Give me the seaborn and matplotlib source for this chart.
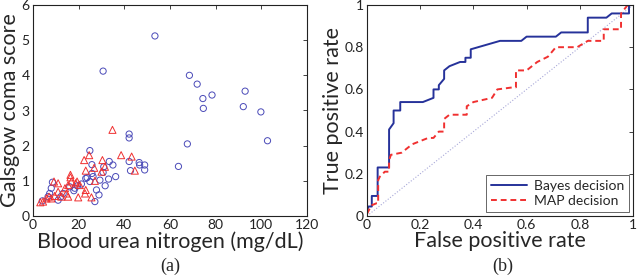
"""Dispersión BUN vs. coma (a) y curvas ROC Bayes/MAP (b)."""

import matplotlib
matplotlib.use("Agg")
import matplotlib.pyplot as plt
import seaborn as sns

# ---------------------------------------------------------------------------
# Datos
# ---------------------------------------------------------------------------
# (a) círculos azules
bun_circ = [53.4, 30.7, 68.5, 71.9, 74.4, 74.6, 78.4, 92.9, 92.1, 99.8, 102.7,
            67.6, 63.7, 42.1, 42.1, 42.1, 42.7, 46.5, 46.7, 48.9, 48.9, 35.0,
            33.4, 36.2, 33.1, 31.6, 30.7, 31.0, 24.9, 25.8, 25.8, 26.3, 29.3,
            27.8, 28.9, 27.1, 23.7, 23.1, 24.9, 21.2, 18.3, 17.9, 8.5, 8.0,
            7.3, 6.6, 4.1, 11.0, 13.2, 16.1, 12.2, 19.5]
gcs_circ = [5.12, 4.12, 4.00, 3.75, 3.34, 3.06, 3.44, 3.55, 3.11, 2.96, 2.14,
            2.05, 1.41, 2.33, 2.22, 1.55, 1.29, 1.52, 1.45, 1.45, 1.31, 1.45,
            1.55, 1.12, 1.05, 0.86, 1.24, 1.40, 1.86, 1.46, 1.21, 1.12, 1.02,
            0.74, 0.60, 0.41, 1.09, 1.07, 0.98, 0.91, 0.79, 0.72, 0.96, 0.79,
            0.64, 0.55, 0.43, 0.45, 0.64, 0.83, 0.55, 0.86]

# (a) triángulos rojos
bun_tri = [34.8, 38.6, 43.2, 44.6, 24.6, 22.4, 30.4, 31.5, 30.0, 26.8, 27.1,
           23.1, 23.1, 22.8, 25.6, 19.8, 16.4, 16.4, 18.7, 19.3, 20.5, 16.8,
           15.4, 14.0, 14.6, 15.4, 11.0, 9.2, 11.0, 9.5, 8.0, 5.9, 4.4, 3.2,
           7.0, 12.4]
gcs_tri = [2.45, 1.73, 1.69, 1.29, 1.73, 1.59, 1.59, 1.40, 1.26, 1.37, 1.00,
           1.29, 0.74, 0.64, 0.53, 0.53, 1.17, 1.10, 0.93, 0.98, 0.88, 0.98,
           0.88, 0.79, 0.64, 0.55, 0.93, 0.98, 0.69, 0.57, 0.50, 0.50, 0.41,
           0.39, 0.55, 0.55]

# (b) curva ROC - decisión de Bayes
fpr_bayes = [0.0, 0.005, 0.018, 0.018, 0.04, 0.04, 0.083, 0.083, 0.10, 0.10,
             0.125, 0.125, 0.21, 0.25, 0.25, 0.27, 0.27, 0.29, 0.29, 0.31,
             0.35, 0.37, 0.37, 0.39, 0.39, 0.50, 0.58, 0.60, 0.71, 0.73, 0.83,
             0.83, 0.90, 0.92, 0.985, 0.985, 1.0]
tpr_bayes = [0.02, 0.045, 0.045, 0.095, 0.095, 0.23, 0.23, 0.41, 0.44, 0.50,
             0.50, 0.54, 0.54, 0.56, 0.60, 0.60, 0.62, 0.65, 0.69, 0.71, 0.73,
             0.73, 0.75, 0.75, 0.79, 0.83, 0.83, 0.85, 0.85, 0.87, 0.87, 0.94,
             0.94, 0.96, 0.96, 1.0, 1.0]

# (b) curva ROC - decisión MAP
fpr_map = [0.0, 0.016, 0.035, 0.042, 0.042, 0.048, 0.067, 0.083, 0.083, 0.09,
           0.13, 0.17, 0.23, 0.25, 0.27, 0.29, 0.29, 0.31, 0.375, 0.375, 0.40,
           0.47, 0.49, 0.55, 0.56, 0.56, 0.60, 0.64, 0.68, 0.71, 0.79, 0.83,
           0.89, 0.89, 0.955, 0.955, 0.98, 1.0]
tpr_map = [0.01, 0.05, 0.06, 0.06, 0.17, 0.186, 0.21, 0.21, 0.265, 0.29, 0.30,
           0.34, 0.37, 0.37, 0.40, 0.40, 0.46, 0.48, 0.48, 0.52, 0.54, 0.56,
           0.60, 0.61, 0.61, 0.69, 0.69, 0.73, 0.755, 0.80, 0.80, 0.83, 0.83,
           0.885, 0.885, 0.96, 1.0, 1.0]

# ---------------------------------------------------------------------------
# Estilo
# ---------------------------------------------------------------------------
AZUL = "#4a4ab8"
AZUL_LINEA = "#26329a"
ROJO = "#f03030"
DIAGONAL = "#a8a8d8"
NEGRO = "#222222"

sns.set_style("white")
plt.rcParams.update({
    "font.family": ["Lato", "DejaVu Sans"],
    "axes.edgecolor": NEGRO,
    "axes.linewidth": 0.8,
    "xtick.direction": "in",
    "ytick.direction": "in",
    "xtick.top": True,
    "ytick.right": True,
    "xtick.major.size": 3,
    "ytick.major.size": 3,
    "xtick.major.width": 0.6,
    "ytick.major.width": 0.6,
    "xtick.major.pad": 2.5,
    "ytick.major.pad": 2.5,
    "xtick.labelsize": 10,
    "ytick.labelsize": 10,
    "xtick.color": NEGRO,
    "ytick.color": NEGRO,
})

fig = plt.figure(figsize=(6.4, 2.78), dpi=100)
ax_a = fig.add_axes([33 / 640, 62 / 278, 274 / 640, 211 / 278])
ax_b = fig.add_axes([367 / 640, 62 / 278, 266 / 640, 211 / 278])

# ---------------------------------------------------------------------------
# (a) dispersión
# ---------------------------------------------------------------------------
sns.scatterplot(x=bun_circ, y=gcs_circ, marker="o", s=20, facecolor="none",
                edgecolor=AZUL, linewidth=0.7, ax=ax_a)
sns.scatterplot(x=bun_tri, y=gcs_tri, marker="^", s=26, facecolor="none",
                edgecolor=ROJO, linewidth=0.7, ax=ax_a)
ax_a.set_xlim(0, 120)
ax_a.set_ylim(0, 6)
ax_a.set_xticks(range(0, 121, 20))
ax_a.set_yticks(range(0, 7))
ax_a.set_xlabel("Blood urea nitrogen (mg/dL)", fontsize=15.5, labelpad=0)
ax_a.set_ylabel("Galsgow coma score", fontsize=15.5, labelpad=1)

# ---------------------------------------------------------------------------
# (b) curvas ROC
# ---------------------------------------------------------------------------
ax_b.plot([0, 1], [0, 1], color=DIAGONAL, linestyle=":", linewidth=0.8)
sns.lineplot(x=fpr_bayes, y=tpr_bayes, sort=False, estimator=None,
             color=AZUL_LINEA, linewidth=1.4, label="Bayes decision", ax=ax_b)
sns.lineplot(x=fpr_map, y=tpr_map, sort=False, estimator=None,
             color=ROJO, linewidth=1.4, linestyle=(0, (3, 2)),
             label="MAP decision", ax=ax_b)
ax_b.set_xlim(0, 1)
ax_b.set_ylim(0, 1)
ticks = [0, 0.2, 0.4, 0.6, 0.8, 1]
ax_b.set_xticks(ticks)
ax_b.set_yticks(ticks)
ax_b.set_xticklabels([f"{t:g}" for t in ticks])
ax_b.set_yticklabels([f"{t:g}" for t in ticks])
ax_b.set_xlabel("False positive rate", fontsize=15.5, labelpad=0)
ax_b.set_ylabel("True positive rate", fontsize=15.5, labelpad=1)
leg = ax_b.legend(loc="lower right", fontsize=10, frameon=True, fancybox=False,
                  handlelength=2.6, borderaxespad=0.3, borderpad=0.35,
                  labelspacing=0.25, handletextpad=0.5)
leg.get_frame().set_edgecolor(NEGRO)
leg.get_frame().set_linewidth(0.6)

# etiquetas de panel
fig.text(170 / 640, 1 - 266 / 278, "(a)", ha="center", va="center",
         fontsize=13, family="Liberation Serif")
fig.text(503 / 640, 1 - 266 / 278, "(b)", ha="center", va="center",
         fontsize=13, family="Liberation Serif")

fig.savefig("out.png", dpi=100)
